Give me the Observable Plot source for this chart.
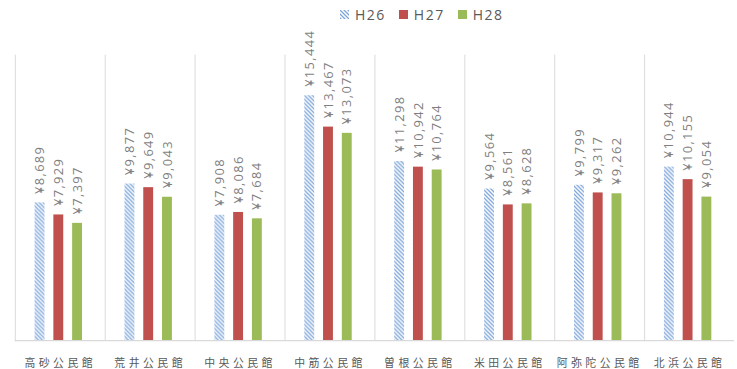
<!DOCTYPE html>
<html>
<head>
<meta charset="utf-8">
<script src="https://cdn.jsdelivr.net/npm/d3@7"></script>
<script src="https://cdn.jsdelivr.net/npm/@observablehq/plot@0.6"></script>
<style>
  html, body { margin: 0; padding: 0; background: #fff; overflow: hidden; }
  #wrap { width: 737px; height: 369px; overflow: hidden; position: relative; }
  #legend { position: relative; height: 30px; font-family: "Open Sans", sans-serif; font-size: 14px; color: #595959; }
  #legend .items { position: absolute; left: 340px; top: 5px; display: flex; gap: 13px; align-items: center; }
  #legend .item { display: flex; align-items: center; letter-spacing: 1.5px; }
  #legend svg { margin-right: 6px; }
  #chart svg { display: block; overflow: visible; }
  #chart .fx-axis text { letter-spacing: 3.5px; }
  #chart .value-labels text { letter-spacing: 1.4px; }
</style>
</head>
<body>
<div id="wrap">
  <div id="legend"></div>
  <div id="chart"></div>
</div>
<script>
// Community centres (公民館) and the yearly figures for each
const categories = ["高砂公民館", "荒井公民館", "中央公民館", "中筋公民館", "曽根公民館", "米田公民館", "阿弥陀公民館", "北浜公民館"];
const seriesNames = ["H26", "H27", "H28"];
const h26 = [8689, 9877, 7908, 15444, 11298, 9564, 9799, 10944];
const h27 = [7929, 9649, 8086, 13467, 10942, 8561, 9317, 10155];
const h28 = [7397, 9043, 7684, 13073, 10764, 8628, 9262, 9054];
const seriesFills = ["url(#hatchH26)", "#C0504D", "#9BBB59"];

const seriesValues = [h26, h27, h28];
const rows = [];
categories.forEach((c, i) => {
  seriesNames.forEach((s, j) => rows.push({category: c, series: s, value: seriesValues[j][i]}));
});

// Legend (also holds the hatch pattern shared with the chart)
const legend = d3.select("#legend");
const defsSvg = legend.append("svg").attr("width", 0).attr("height", 0).style("position", "absolute");
const pat = defsSvg.append("defs").append("pattern")
  .attr("id", "hatchH26")
  .attr("patternUnits", "userSpaceOnUse")
  .attr("width", 4).attr("height", 4);
pat.append("rect").attr("width", 4).attr("height", 4).attr("fill", "#fff");
pat.append("path")
  .attr("d", "M-1,-1 L5,5 M-1,3 L1,5 M3,-1 L5,1")
  .attr("stroke", "#7EA6DA")
  .attr("stroke-width", 1.3);

const items = legend.append("div").attr("class", "items");
seriesNames.forEach((s, j) => {
  const it = items.append("div").attr("class", "item");
  it.append("svg").attr("width", 9).attr("height", 9)
    .append("rect").attr("width", 9).attr("height", 9).attr("fill", seriesFills[j]);
  it.append("span").text(s);
});

const yen = d => "¥" + d3.format(",")(d);

const chart = Plot.plot({
  width: 746,
  height: 339,
  marginLeft: 12,
  marginRight: 0,
  marginTop: 25,
  marginBottom: 25,
  style: {background: "transparent"},
  fx: {domain: categories, padding: 0, label: null, axis: null},
  x: {domain: seriesNames, paddingInner: 0.487, paddingOuter: 1.096, axis: null},
  y: {domain: [0, 18000], axis: null},
  color: {domain: seriesNames, range: seriesFills},
  marks: [
    Plot.frame({anchor: "left", stroke: "#D9D9D9", strokeWidth: 1}),
    Plot.barY(rows, {fx: "category", x: "series", y: "value", fill: "series", dx: -2}),
    Plot.text(rows, {
      fx: "category", x: "series", y: "value",
      text: d => yen(d.value),
      rotate: -90, textAnchor: "start", lineAnchor: "middle",
      dx: -2, dy: -9, fontSize: 13, fill: "#7F7F7F",
      fontFamily: "Open Sans, sans-serif",
      className: "value-labels"
    }),
    Plot.ruleY([0], {stroke: "#D9D9D9", strokeWidth: 1.2}),
    Plot.axisFx({
      anchor: "bottom", tickSize: 0, tickPadding: 19, label: null,
      fontSize: 11, fill: "#595959",
      fontFamily: "Noto Sans CJK JP, sans-serif",
      className: "fx-axis"
    })
  ]
});
document.getElementById("chart").appendChild(chart);
</script>
</body>
</html>
